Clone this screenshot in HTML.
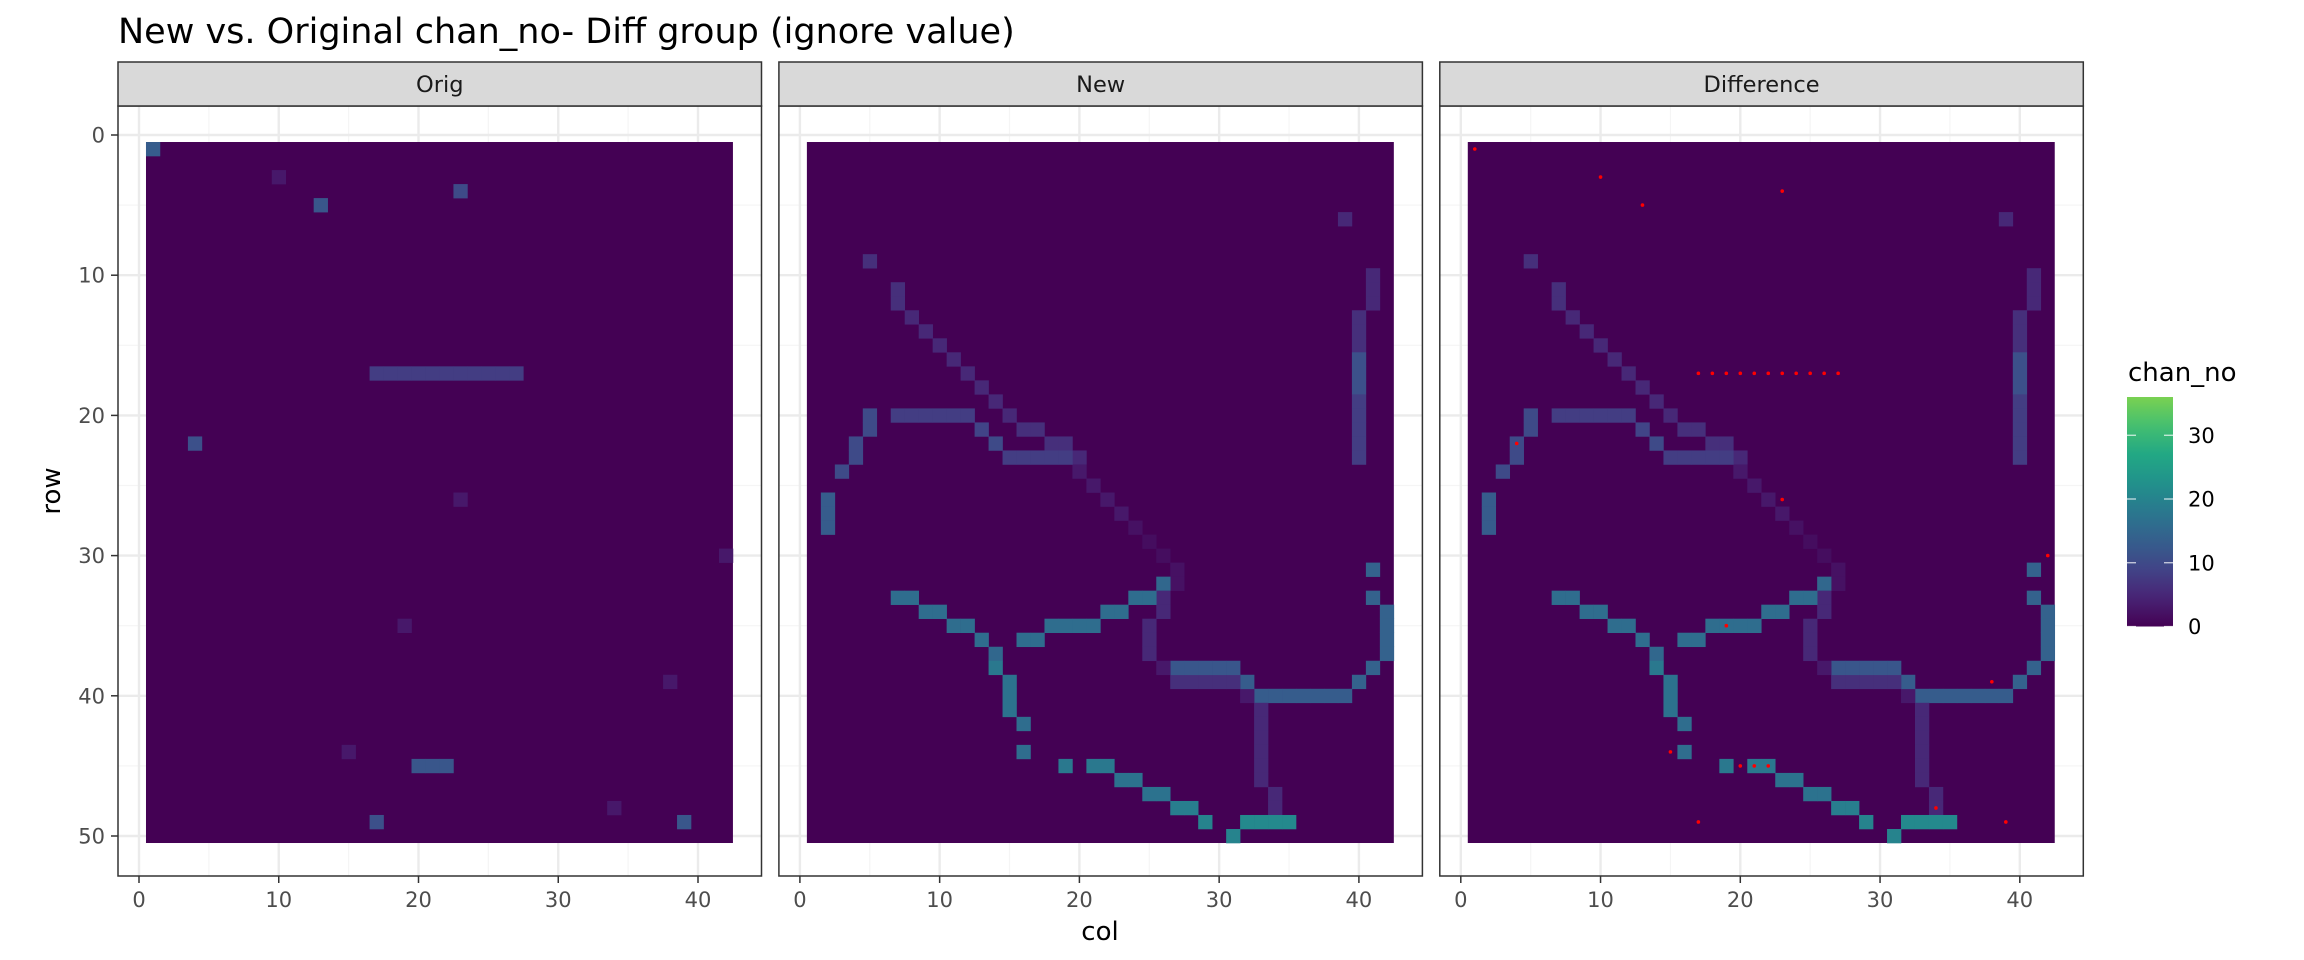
<!DOCTYPE html>
<html><head><meta charset="utf-8"><style>
html,body{margin:0;padding:0;background:#fff;}
svg{display:block;font-family:"DejaVu Sans","Liberation Sans",sans-serif;}
</style></head><body>
<svg id="chart" width="2304" height="960" viewBox="0 0 2304 960">
<text x="118" y="43" font-size="35" fill="#000">New vs. Original chan_no- Diff group (ignore value)</text>
<text x="0" y="0" font-size="26" fill="#000" text-anchor="middle" transform="translate(60,491) rotate(-90)">row</text>
<text x="1100" y="940" font-size="26" fill="#000" text-anchor="middle">col</text>
<text x="2128" y="381" font-size="26" fill="#000">chan_no</text>
</svg>
<script>
const panelNames = ["Orig", "New", "Difference"];
const xTicks = [0, 10, 20, 30, 40];
const yTicks = [0, 10, 20, 30, 40, 50];
const legendTicks = [0, 10, 20, 30];
const nCols = 42;
const nRows = 50;
const colorMax = 45;
const legendMax = 36;
// [col, row, value]
const origCells = [
 [1,1,13],[10,3,3],[23,4,10],[13,5,12],
 [17,17,8],[18,17,8],[19,17,8],[20,17,8],[21,17,8],[22,17,8],[23,17,8],[24,17,8],[25,17,8],[26,17,8],[27,17,8],
 [4,22,11],[23,26,3],[42,30,3],[19,35,3],[38,39,3],[15,44,3],
 [20,45,12],[21,45,12],[22,45,12],[34,48,3],[17,49,11],[39,49,12]
];
const newCells = [
 [39,6,5],[5,9,6],[7,11,6],[7,12,6],[8,13,5],[9,14,5],[10,15,5],[11,16,5],[12,17,5],[13,18,5],[14,19,5],[15,20,5],
 [16,21,6],[17,21,6],[18,22,6],[19,22,6],[20,23,5],[20,24,3],[21,25,3],[22,26,3],[23,27,3],[24,28,2],[25,29,1.5],[26,30,1.5],[27,31,2],[27,32,2],
 [5,20,10],[7,20,8],[8,20,8],[9,20,8],[10,20,8],[11,20,8],[12,20,8],[5,21,10],[13,21,9],[4,22,10],[14,22,10],[4,23,10],
 [15,23,8],[16,23,8],[17,23,8],[18,23,8],[19,23,8],[3,24,10],[2,26,13],[2,27,13],[2,28,13],
 [41,10,5],[41,11,5],[41,12,5],[40,13,6],[40,14,6],[40,15,6],[40,16,11],[40,17,11],[40,18,11],
 [40,19,8],[40,20,8],[40,21,8],[40,22,8],[40,23,8],
 [41,31,14],[41,33,14],[42,34,14],[42,35,14],[42,36,14],[42,37,14],[41,38,14],[40,39,14],
 [33,40,13],[34,40,13],[35,40,13],[36,40,13],[37,40,13],[38,40,13],[39,40,13],[32,40,3],[32,39,13],
 [27,39,6],[28,39,6],[29,39,6],[30,39,6],[31,39,6],[27,38,12],[28,38,12],[29,38,12],[30,38,12],[31,38,12],[26,38,3],
 [33,41,5],[33,42,5],[33,43,5],[33,44,5],[33,45,5],[33,46,5],[34,47,5],[34,48,5],
 [32,49,21],[33,49,21],[34,49,21],[35,49,21],[29,49,20],[31,50,20],
 [26,32,15],[26,33,5],[26,34,5],[25,35,5],[25,36,5],[25,37,5],
 [7,33,16],[8,33,16],[24,33,16],[25,33,16],[9,34,16],[10,34,16],[22,34,16],[23,34,16],
 [11,35,16],[12,35,16],[18,35,16],[19,35,16],[20,35,16],[21,35,16],[13,36,16],[16,36,16],[17,36,16],
 [14,37,15],[14,38,18],[15,39,17],[15,40,17],[15,41,17],[16,42,16],[16,44,16],
 [19,45,18],[21,45,18],[22,45,18],[23,46,17],[24,46,17],[25,47,17],[26,47,17],[27,48,19],[28,48,19]
];
const panelCells = [origCells, newCells, newCells];

const NS = "http://www.w3.org/2000/svg";
const svg = document.getElementById("chart");
const stops = ["#440154","#482475","#414487","#355f8d","#2a788e","#21918c","#22a884","#44bf70","#7ad151","#bddf26","#fde725"];
function hex(h){return [parseInt(h.substr(1,2),16),parseInt(h.substr(3,2),16),parseInt(h.substr(5,2),16)];}
function viridis(t){t=Math.max(0,Math.min(1,t));const f=t*10,i=Math.min(9,Math.floor(f)),u=f-i;const a=hex(stops[i]),b=hex(stops[i+1]);
 return "rgb("+a.map((v,k)=>Math.round(v+(b[k]-v)*u)).join(",")+")";}
function colorOf(v){return viridis(v/colorMax);}
const PANEL_STEP = 660.9, PANEL_W = 643.5;
function X(k,c){return 139 + k*PANEL_STEP + c*13.975;}
function Y(r){return 135 + r*14.02;}
function mk(tag, attrs, parent){const e=document.createElementNS(NS,tag);for(const k in attrs)e.setAttribute(k,attrs[k]);(parent||svg).appendChild(e);return e;}

panelNames.forEach((name,k)=>{
  const left = 118 + k*PANEL_STEP;
  const g = mk("g",{});
  
  
  mk("rect",{x:left,y:106,width:PANEL_W,height:770,fill:"#fff"},g);
  [5,15,25,35].forEach(v=>mk("line",{x1:X(k,v),x2:X(k,v),y1:106,y2:876,stroke:"#f5f5f5","stroke-width":1.2},g));
  [5,15,25,35,45].forEach(v=>mk("line",{x1:left,x2:left+PANEL_W,y1:Y(v),y2:Y(v),stroke:"#f5f5f5","stroke-width":1.2},g));
  xTicks.forEach(v=>mk("line",{x1:X(k,v),x2:X(k,v),y1:106,y2:876,stroke:"#ebebeb","stroke-width":2.4},g));
  yTicks.forEach(v=>mk("line",{x1:left,x2:left+PANEL_W,y1:Y(v),y2:Y(v),stroke:"#ebebeb","stroke-width":2.4},g));
  const bg = mk("rect",{x:X(k,0.5),y:Y(0.5),width:X(k,nCols+0.5)-X(k,0.5),height:Y(nRows+0.5)-Y(0.5),fill:colorOf(0)},g);
  
  
  panelCells[k].forEach(d=>{
    const r = mk("rect",{x:X(k,d[0]-0.5),y:Y(d[1]-0.5),width:X(k,d[0]+0.5)-X(k,d[0]-0.5)+0.3,height:Y(d[1]+0.5)-Y(d[1]-0.5)+0.3,fill:colorOf(d[2])},g);
    
    
  });
  if(k===2){
    origCells.forEach(d=>{
      const c = mk("circle",{cx:X(k,d[0]),cy:Y(d[1]),r:1.8,fill:"#ff0000"},g);
      
      
    });
  }
  mk("rect",{x:left,y:106,width:PANEL_W,height:770,fill:"none",stroke:"#333","stroke-width":1.5},g);
  const s = mk("rect",{x:left,y:62,width:PANEL_W,height:44,fill:"#d9d9d9",stroke:"#333","stroke-width":1.5});
  
  
  const st = mk("text",{x:left+PANEL_W/2,y:92,"font-size":22.5,fill:"#1a1a1a","text-anchor":"middle"});
  st.textContent = name;
  
  
  xTicks.forEach(v=>{
    mk("line",{x1:X(k,v),x2:X(k,v),y1:876,y2:883,stroke:"#333","stroke-width":1.5});
    const t = mk("text",{x:X(k,v),y:907,"font-size":21,fill:"#4d4d4d","text-anchor":"middle"});
    t.textContent = v;
    
    
  });
});
yTicks.forEach(v=>{
  mk("line",{x1:111,x2:118,y1:Y(v),y2:Y(v),stroke:"#333","stroke-width":1.5});
  const t = mk("text",{x:105,y:Y(v)+7.5,"font-size":21,fill:"#4d4d4d","text-anchor":"end"});
  t.textContent = v;
  
  
});
const defs = mk("defs",{});
const grad = mk("linearGradient",{id:"vg",x1:0,y1:1,x2:0,y2:0},defs);
for(let i=0;i<=20;i++){mk("stop",{offset:(i/20),"stop-color":viridis(i/20*legendMax/colorMax)},grad);}
const LB = 626.5, LT = 397;
function LY(v){return LB - (LB-LT)*v/legendMax;}
const bar = mk("rect",{x:2127,y:LT,width:46,height:LB-LT,fill:"url(#vg)"});


legendTicks.forEach(v=>{
  mk("line",{x1:2127,x2:2136,y1:LY(v),y2:LY(v),stroke:"#fff","stroke-width":1.2,opacity:0.8});
  mk("line",{x1:2164,x2:2173,y1:LY(v),y2:LY(v),stroke:"#fff","stroke-width":1.2,opacity:0.8});
  const t = mk("text",{x:2188,y:LY(v)+7.5,"font-size":21,fill:"#000"});
  t.textContent = v;
  
  
});
</script>
</body></html>
